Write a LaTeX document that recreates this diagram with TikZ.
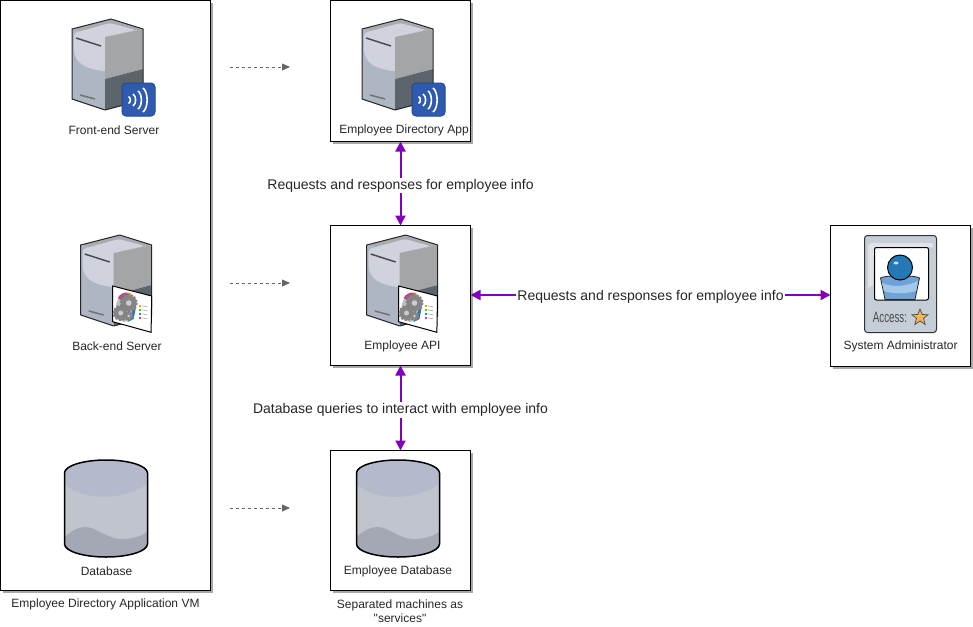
\documentclass[tikz,border=0pt]{standalone}
\usepackage{fontspec}
\setmainfont{Liberation Sans}
\newfontfamily\plainfam{Liberation Sans}
\usetikzlibrary{arrows.meta,shapes.geometric,calc}
\definecolor{purp}{HTML}{8000BE}
\definecolor{dashgrey}{HTML}{666666}
\definecolor{fl}{HTML}{D0D3DD}
\definecolor{fm}{HTML}{AEB6C4}
\definecolor{tp}{HTML}{A9ABAF}
\definecolor{rt}{HTML}{A4A5A7}
\definecolor{rd}{HTML}{5C656B}
\definecolor{dbtop}{HTML}{B4BACB}
\definecolor{dbmid}{HTML}{C0C4CD}
\definecolor{dbbot}{HTML}{A3A8B4}
\definecolor{cardc}{HTML}{C5CDD6}
\definecolor{badge}{HTML}{2E5BB0}
\definecolor{badgeb}{HTML}{1F4A94}
\definecolor{headc}{HTML}{2478B4}
\definecolor{bodyc}{HTML}{6FA3D8}
\definecolor{bodyl}{HTML}{A4C8E8}
\definecolor{starc}{HTML}{F2B552}
\definecolor{shad}{HTML}{A8A8A8}
\tikzset{
  x=1pt,y=-1pt,
  frame/.style={draw=black,line width=1pt,fill=white,inner sep=0pt,outer sep=0pt,minimum width=#1},
  shadow box/.style={fill=shad},
  lab/.style={font=\plainfam\fontsize{12}{14}\selectfont,text=black!85,inner sep=0pt,align=center},
  biglab/.style={font=\fontsize{14}{16}\selectfont,fill=white,inner sep=1pt,text=black!85,yshift=-2pt},
  biarrow/.style={draw=purp,line width=2pt,{Triangle[width=10pt,length=10pt]}-{Triangle[width=10pt,length=10pt]}},
  dasharrow/.style={draw=dashgrey,line width=.8pt,dash pattern=on 3pt off 3pt,-{Triangle[width=7pt,length=8pt]}},
  server/.pic={
    \fill[fm] (0,10) -- (33,18) -- (33,91) -- (0,80) -- cycle;
    \fill[tp] (0,10) -- (39,0) -- (71,10) -- (33,18) -- cycle;
    \fill[fl,rounded corners=3pt] (2,14) -- (38,4) -- (64,11) -- (33,18) -- (33,30) -- (33,52) .. controls (14,50) and (2,44) .. (2,27) -- cycle;
    \fill[fl] (33,18) -- (33,52) .. controls (25,51) and (20,50) .. (15,45) -- (15,14) -- cycle;
    \fill[rt] (33,18) -- (71,10) -- (71,50) -- (33,60) -- cycle;
    \fill[rd] (33,60) -- (71,50) -- (71,81) -- (33,91) -- cycle;
    \draw[black!85,line width=1pt,line join=round] (0,10) -- (39,0) -- (71,10) -- (71,81) -- (33,91) -- (0,80) -- cycle;
    \draw[black!70,line width=1.5pt] (4,19) -- (29,27);
    \draw[black!55,line width=1.5pt] (8,76) -- (23,80);
  },
  badgepic/.pic={
    \draw[badgeb,fill=badge,line width=1pt,rounded corners=4pt] (0,0) rectangle (33,33);
    \foreach \ax/\ah/\ak in {6.5/7/2.5,11/12/3.5,16/18/4.5,21/24/5.5}{
      \draw[white,line width=1.6pt] (\ax,17-\ah/2) .. controls (\ax+\ak,17-\ah/3) and (\ax+\ak,17+\ah/3) .. (\ax,17+\ah/2);
    }
  },
  gearpanel/.pic={
    \fill[white,draw=black,line width=1pt] (0,0) -- (39,10) -- (38.4,46.3) -- (0,35.7) -- cycle;
    \fill[black!25,rotate around={-8:(13,21.5)}] (13,21.5) ellipse[x radius=10,y radius=14.5];
    \fill[magenta!65!black!90] (5,12) .. controls (7,8) and (12,6) .. (15,6.5) -- (15,18) -- cycle;
    \fill[orange] (15,6.5) -- (18,7) -- (17,11) -- cycle;
    \fill[headc] (20,24) -- (23,22) -- (21,33) -- (15,36) -- cycle;
    \foreach \gx/\gy/\gr in {16/17/8,8/27/7,16/30/4}{
      \draw[black!50,line width=2pt,dash pattern=on 2pt off 1.6pt] (\gx,\gy) circle (\gr);
      \fill[black!48] (\gx,\gy) circle (\gr);
      \fill[black!20] (\gx,\gy) circle (\gr*.35);
    }
    \foreach \ly/\lc in {19/orange!80!yellow,23/green!60!yellow!80!black,27/cyan!70!blue,31/magenta!80}{
      \fill[\lc] (26.5,\ly) rectangle +(2,2);
      \draw[black!40,line width=.5pt] (29.5,\ly+.8) -- +(5,1);
    }
  },
  cylinder icon/.pic={
    \fill[dbmid] (0,13) -- (83,13) -- (83,84) -- (0,84) -- cycle;
    \fill[dbtop] (0,13) arc[start angle=180,end angle=360,x radius=41.5,y radius=13]
       -- (83,23) .. controls (70,36) and (25,46) .. (0,24) -- cycle;
    \fill[dbbot] (0,77) .. controls (8,70) and (14,67) .. (21,67) .. controls (33,67) and (42,80) .. (60,79) .. controls (72,78) and (80,75) .. (83,71) -- (83,84)
      arc[start angle=0,end angle=180,x radius=41.5,y radius=13] -- cycle;
    \draw[black,line width=1.5pt] (0,13) arc[start angle=180,end angle=360,x radius=41.5,y radius=13]
      -- (83,84) arc[start angle=0,end angle=180,x radius=41.5,y radius=13] -- cycle;
  },
}
\begin{document}
\begin{tikzpicture}
\useasboundingbox (0,0) rectangle (973,626);
% shadows
\fill[shadow box] (3,3) rectangle (213,593);
\fill[shadow box] (333,3) rectangle (473,144);
\fill[shadow box] (333,228) rectangle (473,368);
\fill[shadow box] (333,453) rectangle (473,593);
\fill[shadow box] (833,228) rectangle (973,369);
% frames
\node[frame=210pt,minimum height=590pt,anchor=north west] (vm) at (.5,.5) {};
\node[frame=140pt,minimum height=141pt,anchor=north west] (app) at (330.5,.5) {};
\node[frame=140pt,minimum height=140pt,anchor=north west] (api) at (330.5,225.5) {};
\node[frame=140pt,minimum height=140pt,anchor=north west] (edb) at (330.5,450.5) {};
\node[frame=140pt,minimum height=141pt,anchor=north west] (admin) at (830.5,225.5) {};
% icons
\pic at (72,19) {server};
\pic at (122,83) {badgepic};
\pic at (362,19) {server};
\pic at (412,83) {badgepic};
\begin{scope}[shift={(80.7,235)},xscale=.855,yscale=.95]\pic {server};\end{scope}
\pic at (112.7,286) {gearpanel};
\begin{scope}[shift={(366.7,235)},xscale=.855,yscale=.95]\pic {server};\end{scope}
\pic at (398.5,286) {gearpanel};
\pic at (64.5,460) {cylinder icon};
\pic at (356.5,460) {cylinder icon};
% person card
\draw[black!80,fill=cardc,line width=1pt,rounded corners=3pt] (864.5,235.5) rectangle (936.5,332.5);
\fill[white,opacity=.45] (868,249) .. controls (868,244) and (870,243) .. (874,243) -- (933,243) -- (933,247) -- (874,247) -- (873,285) -- (868,288) -- cycle;
\draw[black,fill=white,line width=1pt,rounded corners=2pt] (874.5,247.5) rectangle (928.5,300);
\draw[black!85,fill=bodyc,line width=.8pt] (880.5,278) .. controls (885,275) and (915,275) .. (919.5,278) -- (915,299.5) -- (885,299.5) -- cycle;
\fill[bodyl] (882,283) .. controls (893,288) and (908,286) .. (918,281) -- (916,291) .. controls (906,294) and (893,294) .. (884,291) -- cycle;
\draw[black,fill=headc,line width=1pt] (900,267.5) circle (12.5);
\fill[white,opacity=.75] (896,263) ellipse[x radius=2.5,y radius=1.5];
\node[inner sep=0pt,text=black!70,font=\plainfam\fontsize{15}{17}\selectfont,xscale=.65] (acc) at (890,317) {Access:};
\fill[starc,draw=black!70,line width=.7pt] (920,309)
  -- (922.2,314.5) -- (928,314.7) -- (923.5,318.4) -- (925.2,324.5) -- (920,321) -- (914.8,324.5) -- (916.5,318.4) -- (912,314.7) -- (917.8,314.5) -- cycle;
% labels
\node[lab] (t1) at (114,130) {Front-end Server};
\node[lab] (t2) at (117,346) {Back-end Server};
\node[lab] (t3) at (106.5,571.5) {Database};
\node[lab] (t4) at (404,130.5) {Employee Directory App};
\node[lab] (t5) at (402.5,346.5) {Employee API};
\node[lab] (t6) at (398,571.5) {Employee Database};
\node[lab] (t7) at (900.5,346.5) {System Administrator};
\node[lab] (t8) at (105.5,604.5) {Employee Directory Application VM};
\node[lab] (t9) at (400,611) {Separated machines as\\"services"};
% dashed connectors
\coordinate (a1) at (230,67); \coordinate (b1) at (290,67);
\coordinate (a2) at (230,283); \coordinate (b2) at (290,283);
\coordinate (a3) at (230,508); \coordinate (b3) at (290,508);
\draw[dasharrow] (a1) -- (b1);
\draw[dasharrow] (a2) -- (b2);
\draw[dasharrow] (a3) -- (b3);
% purple connectors
\draw[biarrow] (app.south) -- node[biglab] (l1) {Requests and responses for employee info} (api.north);
\draw[biarrow] (api.south) -- node[biglab] (l2) {Database queries to interact with employee info} (edb.north);
\draw[biarrow] (api.east |- 0,295) -- node[biglab] (l3) {Requests and responses for employee info} (admin.west |- 0,295);
\end{tikzpicture}
\end{document}
